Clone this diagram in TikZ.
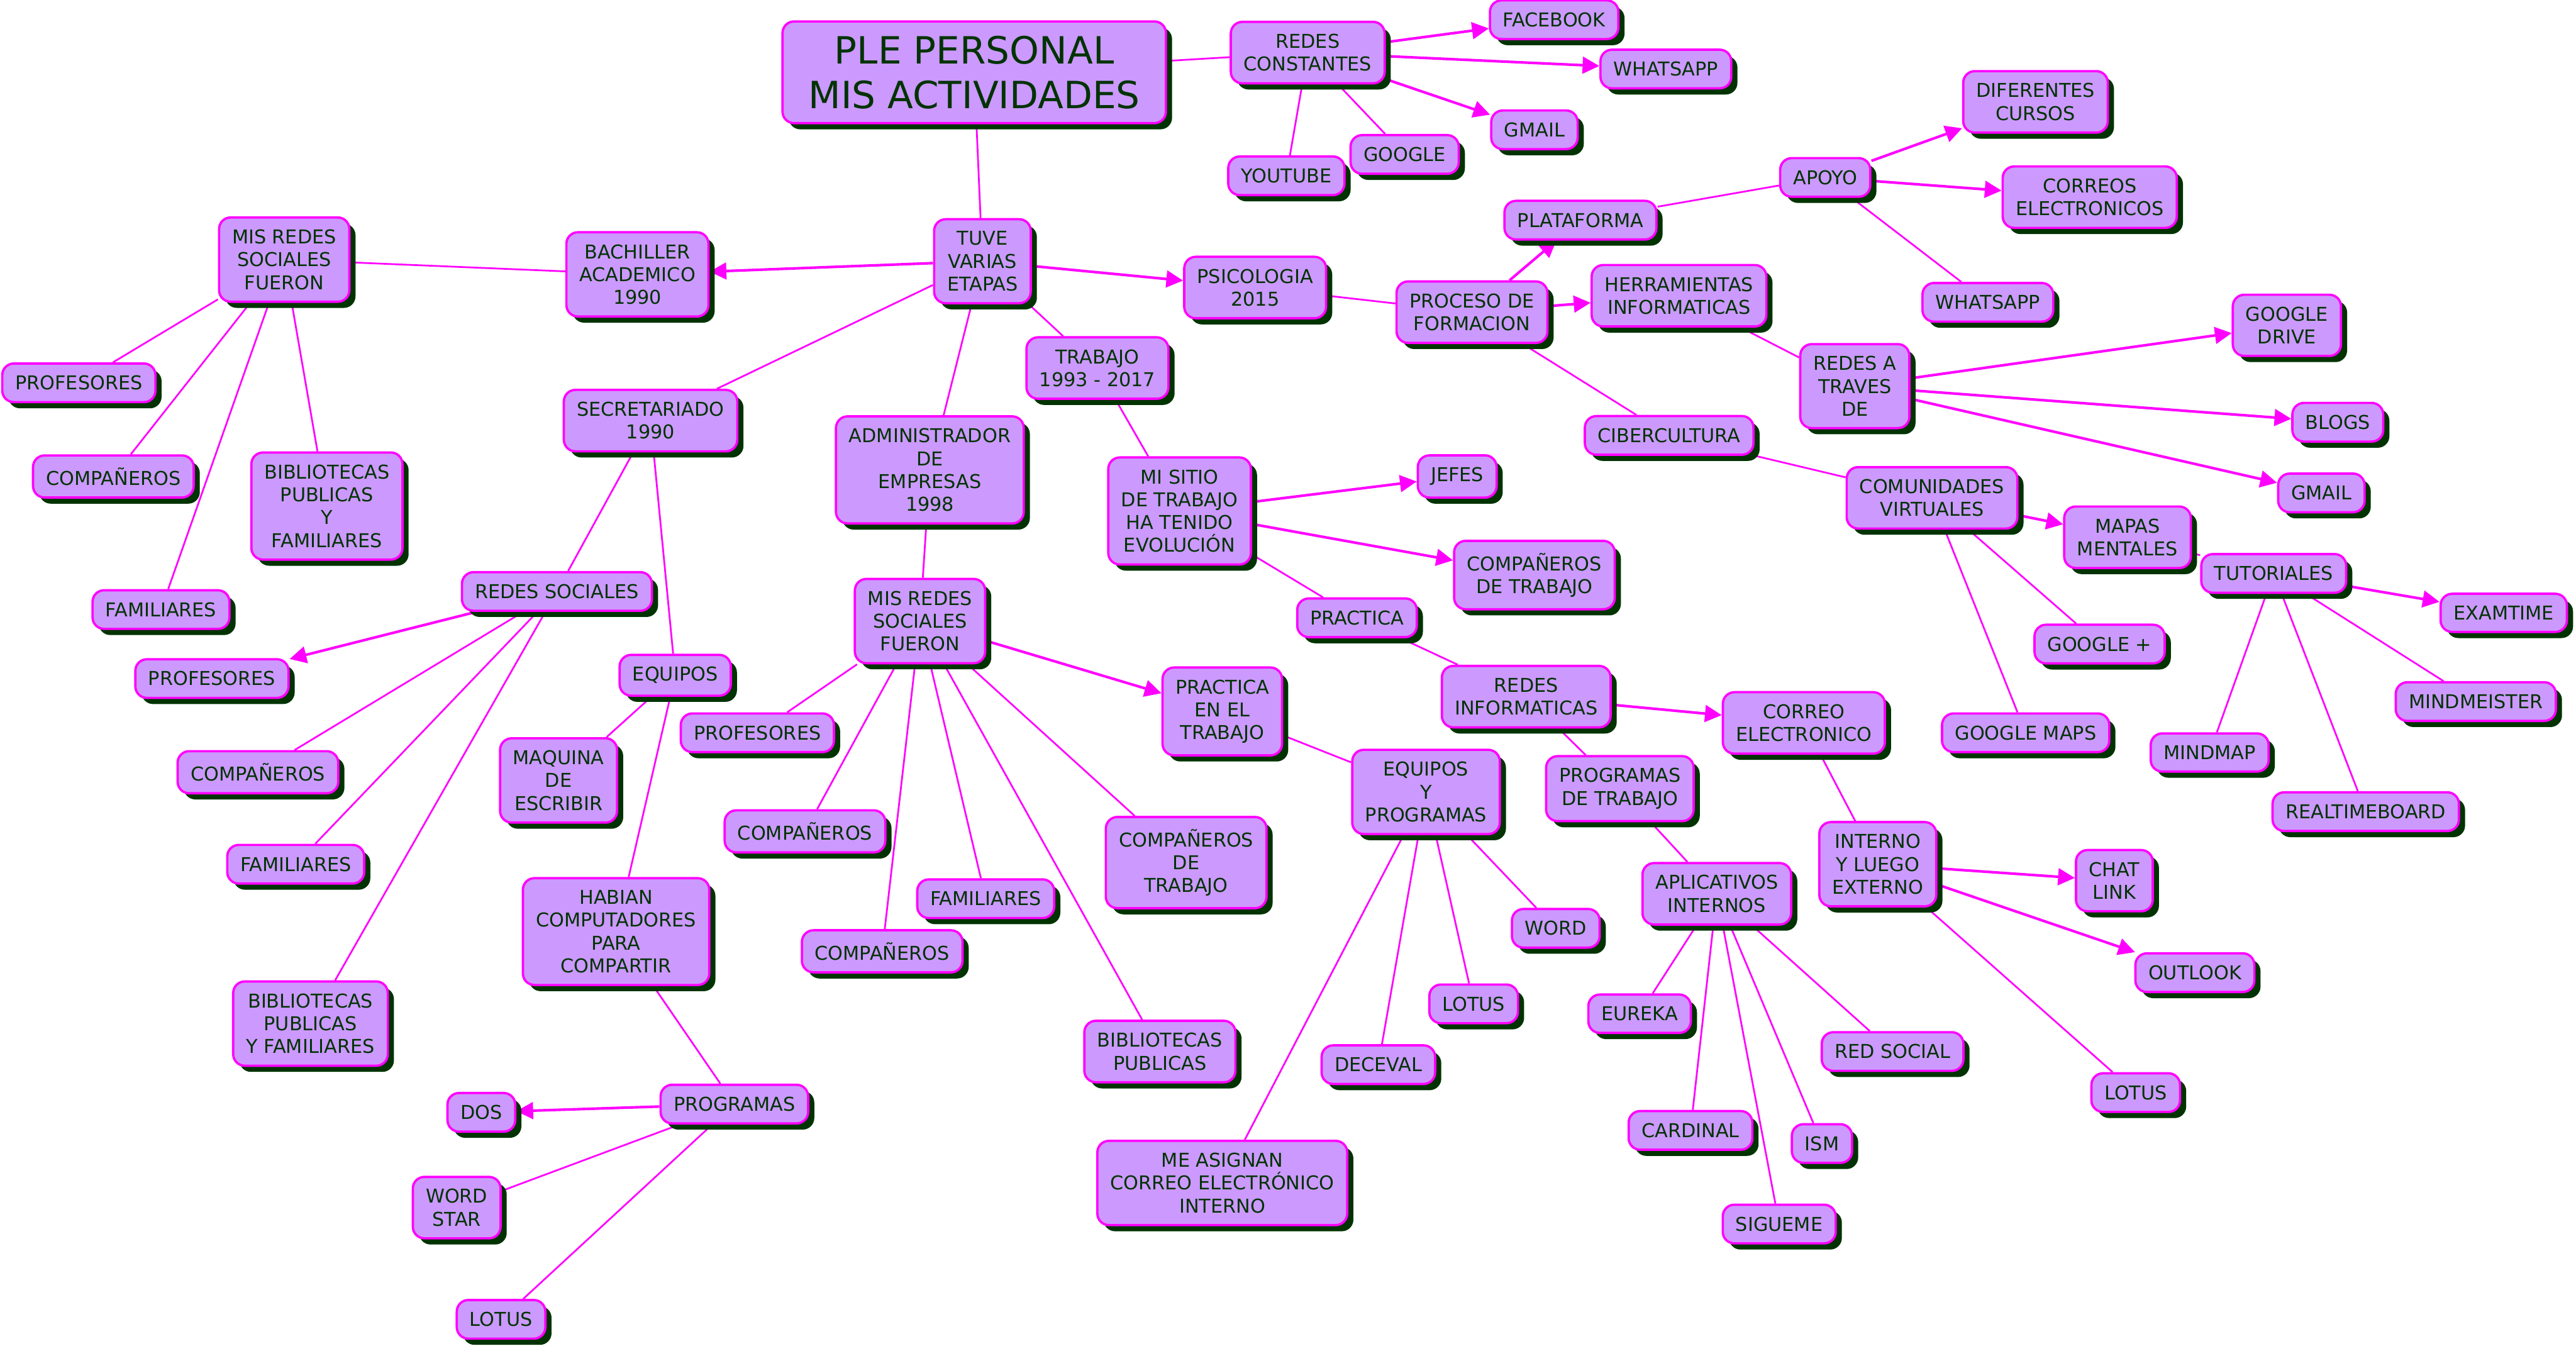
\documentclass[tikz,border=0pt]{standalone}
\usepackage{fontspec}
\setmainfont{DejaVu Sans}
\usetikzlibrary{arrows.meta,shadows,backgrounds}
\definecolor{conceptfill}{RGB}{204,153,255}
\definecolor{conceptline}{RGB}{255,0,255}
\definecolor{darkgreen}{RGB}{0,51,0}
\tikzset{
    concept/.style={rectangle, rounded corners=4pt, draw=conceptline, line width=0.8pt,
        fill=conceptfill, text=darkgreen, align=center, inner xsep=4.5pt, inner ysep=4.2pt,
        font=\fontsize{6.6}{7.9}\selectfont,
        drop shadow={shadow xshift=0.075cm, shadow yshift=-0.075cm, fill=darkgreen, opacity=1}},
    titlebox/.style={concept, font=\fontsize{13}{15.4}\selectfont, inner xsep=9pt, inner ysep=5pt},
    link/.style={draw=conceptline, line width=0.6pt},
    arrowlink/.style={link, line width=0.9pt, -{Triangle[length=5.8pt,width=5.8pt]}}
}
\begin{document}
\begin{tikzpicture}[x=0.02cm, y=-0.02cm]
    \useasboundingbox (0,0) rectangle (1568,822);

    % centre and top right
    \node[titlebox] (ple) at (593,44) {PLE PERSONAL\\MIS ACTIVIDADES};
    \node[concept] (redesc) at (796,32) {REDES\\CONSTANTES};
    \node[concept] (facebook) at (946,12) {FACEBOOK};
    \node[concept] (whats1) at (1014,42) {WHATSAPP};
    \node[concept] (gmail1) at (934,79) {GMAIL};
    \node[concept] (google) at (855,94) {GOOGLE};
    \node[concept] (youtube) at (783,107) {YOUTUBE};
    \node[concept] (tuve) at (598,159) {TUVE\\VARIAS\\ETAPAS};

    % bachiller
    \node[concept] (bach) at (388,167) {BACHILLER\\ACADEMICO\\1990};
    \node[concept] (misredes1) at (173,158) {MIS REDES\\SOCIALES\\FUERON};
    \node[concept] (prof1) at (48,233) {PROFESORES};
    \node[concept] (comp1) at (69,290) {COMPAÑEROS};
    \node[concept] (bib1) at (199,308) {BIBLIOTECAS\\PUBLICAS\\Y\\FAMILIARES};
    \node[concept] (fam1) at (98,371) {FAMILIARES};

    % psicologia
    \node[concept] (psico) at (764,175) {PSICOLOGIA\\2015};
    \node[concept] (proceso) at (896,190) {PROCESO DE\\FORMACION};
    \node[concept] (plataforma) at (962,134) {PLATAFORMA};
    \node[concept] (apoyo) at (1111,108) {APOYO};
    \node[concept] (cursos) at (1239,62) {DIFERENTES\\CURSOS};
    \node[concept] (correos) at (1272,120) {CORREOS\\ELECTRONICOS};
    \node[concept] (whats2) at (1210,184) {WHATSAPP};
    \node[concept] (herram) at (1022,180) {HERRAMIENTAS\\INFORMATICAS};
    \node[concept] (redesa) at (1129,235) {REDES A\\TRAVES\\DE};
    \node[concept] (gdrive) at (1392,198) {GOOGLE\\DRIVE};
    \node[concept] (blogs) at (1423,257) {BLOGS};
    \node[concept] (gmail2) at (1413,300) {GMAIL};
    \node[concept] (ciber) at (1016,265) {CIBERCULTURA};
    \node[concept] (comunid) at (1176,303) {COMUNIDADES\\VIRTUALES};
    \node[concept] (mapas) at (1295,327) {MAPAS\\MENTALES};
    \node[concept] (tutor) at (1384,349) {TUTORIALES};
    \node[concept] (examtime) at (1524,373) {EXAMTIME};
    \node[concept] (mindmeister) at (1507,427) {MINDMEISTER};
    \node[concept] (mindmap) at (1345,458) {MINDMAP};
    \node[concept] (realtime) at (1440,494) {REALTIMEBOARD};
    \node[concept] (gplus) at (1278,392) {GOOGLE +};
    \node[concept] (gmaps) at (1233,446) {GOOGLE MAPS};

    % trabajo
    \node[concept] (trabajo) at (668,224) {TRABAJO\\1993 - 2017};
    \node[concept] (misitio) at (718,311) {MI SITIO\\DE TRABAJO\\HA TENIDO\\EVOLUCIÓN};
    \node[concept] (jefes) at (887,290) {JEFES};
    \node[concept] (comptrab1) at (934,350) {COMPAÑEROS\\DE TRABAJO};
    \node[concept] (practica) at (826,376) {PRACTICA};
    \node[concept] (redesinf) at (929,424) {REDES\\INFORMATICAS};
    \node[concept] (correoe) at (1098,440) {CORREO\\ELECTRONICO};
    \node[concept] (progtrab) at (986,480) {PROGRAMAS\\DE TRABAJO};
    \node[concept] (interno) at (1143,526) {INTERNO\\Y LUEGO\\EXTERNO};
    \node[concept] (chat) at (1287,536) {CHAT\\LINK};
    \node[concept] (outlook) at (1336,592) {OUTLOOK};
    \node[concept] (lotus3) at (1300,665) {LOTUS};
    \node[concept] (aplic) at (1045,544) {APLICATIVOS\\INTERNOS};
    \node[concept] (eureka) at (998,617) {EUREKA};
    \node[concept] (cardinal) at (1029,688) {CARDINAL};
    \node[concept] (ism) at (1109,696) {ISM};
    \node[concept] (sigueme) at (1083,745) {SIGUEME};
    \node[concept] (redsocial) at (1152,640) {RED SOCIAL};

    % administrador
    \node[concept] (admin) at (566,286) {ADMINISTRADOR\\DE\\EMPRESAS\\1998};
    \node[concept] (misredes2) at (560,378) {MIS REDES\\SOCIALES\\FUERON};
    \node[concept] (prof2) at (461,446) {PROFESORES};
    \node[concept] (comp2) at (490,506) {COMPAÑEROS};
    \node[concept] (comp3) at (537,579) {COMPAÑEROS};
    \node[concept] (fam2) at (600,547) {FAMILIARES};
    \node[concept] (bib2) at (706,640) {BIBLIOTECAS\\PUBLICAS};
    \node[concept] (comptrab2) at (722,525) {COMPAÑEROS\\DE\\TRABAJO};
    \node[concept] (practtrab) at (744,433) {PRACTICA\\EN EL\\TRABAJO};
    \node[concept] (equipos2) at (868,482) {EQUIPOS\\Y\\PROGRAMAS};
    \node[concept] (word) at (947,565) {WORD};
    \node[concept] (lotus2) at (897,611) {LOTUS};
    \node[concept] (deceval) at (839,648) {DECEVAL};
    \node[concept] (asignan) at (744,720) {ME ASIGNAN\\CORREO ELECTRÓNICO\\INTERNO};

    % secretariado
    \node[concept] (secre) at (396,256) {SECRETARIADO\\1990};
    \node[concept] (redsoc) at (339,360) {REDES SOCIALES};
    \node[concept] (prof3) at (129,413) {PROFESORES};
    \node[concept] (comp4) at (157,470) {COMPAÑEROS};
    \node[concept] (fam3) at (180,526) {FAMILIARES};
    \node[concept] (bib3) at (189,623) {BIBLIOTECAS\\PUBLICAS\\Y FAMILIARES};
    \node[concept] (equipos1) at (411,411) {EQUIPOS};
    \node[concept] (maquina) at (340,475) {MAQUINA\\DE\\ESCRIBIR};
    \node[concept] (habian) at (375,567) {HABIAN\\COMPUTADORES\\PARA\\COMPARTIR};
    \node[concept] (programas) at (447,672) {PROGRAMAS};
    \node[concept] (dos) at (293,677) {DOS};
    \node[concept] (wordstar) at (278,735) {WORD\\STAR};
    \node[concept] (lotus1) at (305,803) {LOTUS};

    % connectors
    \begin{scope}[on background layer]
        \draw[link] (ple) -- (redesc);
        \draw[link] (ple) -- (tuve);
        \foreach \t in {facebook,whats1,gmail1} \draw[arrowlink] (redesc) -- (\t);
        \foreach \t in {google,youtube} \draw[link] (redesc) -- (\t);

        \draw[arrowlink] (tuve) -- (bach);
        \draw[arrowlink] (tuve) -- (psico);
        \foreach \t in {trabajo,secre,admin} \draw[link] (tuve) -- (\t);

        \draw[link] (bach) -- (misredes1);
        \foreach \t in {prof1,comp1,bib1,fam1} \draw[link] (misredes1) -- (\t);

        \draw[link] (psico) -- (proceso);
        \draw[arrowlink] (proceso) -- (plataforma);
        \draw[arrowlink] (proceso) -- (herram);
        \draw[link] (proceso) -- (ciber);
        \draw[link] (plataforma) -- (apoyo);
        \draw[arrowlink] (apoyo) -- (cursos);
        \draw[arrowlink] (apoyo) -- (correos);
        \draw[link] (apoyo) -- (whats2);
        \draw[link] (herram) -- (redesa);
        \foreach \t in {gdrive,blogs,gmail2} \draw[arrowlink] (redesa) -- (\t);
        \draw[link] (ciber) -- (comunid);
        \draw[arrowlink] (comunid) -- (mapas);
        \foreach \t in {gplus,gmaps} \draw[link] (comunid) -- (\t);
        \draw[link] (mapas) -- (tutor);
        \draw[arrowlink] (tutor) -- (examtime);
        \foreach \t in {mindmeister,mindmap,realtime} \draw[link] (tutor) -- (\t);

        \draw[link] (trabajo) -- (misitio);
        \draw[arrowlink] (misitio) -- (jefes);
        \draw[arrowlink] (misitio) -- (comptrab1);
        \draw[link] (misitio) -- (practica);
        \draw[link] (practica) -- (redesinf);
        \draw[arrowlink] (redesinf) -- (correoe);
        \draw[link] (redesinf) -- (progtrab);
        \draw[link] (correoe) -- (interno);
        \draw[arrowlink] (interno) -- (chat);
        \draw[arrowlink] (interno) -- (outlook);
        \draw[link] (interno) -- (lotus3);
        \draw[link] (progtrab) -- (aplic);
        \foreach \t in {eureka,cardinal,sigueme,ism,redsocial} \draw[link] (aplic) -- (\t);

        \draw[link] (admin) -- (misredes2);
        \foreach \t in {prof2,comp2,comp3,fam2,bib2,comptrab2} \draw[link] (misredes2) -- (\t);
        \draw[arrowlink] (misredes2) -- (practtrab);
        \draw[link] (practtrab) -- (equipos2);
        \foreach \t in {word,lotus2,deceval,asignan} \draw[link] (equipos2) -- (\t);

        \draw[link] (secre) -- (redsoc);
        \draw[link] (secre) -- (equipos1);
        \draw[arrowlink] (redsoc) -- (prof3);
        \foreach \t in {comp4,fam3,bib3} \draw[link] (redsoc) -- (\t);
        \draw[link] (equipos1) -- (maquina);
        \draw[link] (equipos1) -- (habian);
        \draw[link] (habian) -- (programas);
        \draw[arrowlink] (programas) -- (dos);
        \foreach \t in {wordstar,lotus1} \draw[link] (programas) -- (\t);
    \end{scope}
\end{tikzpicture}
\end{document}
